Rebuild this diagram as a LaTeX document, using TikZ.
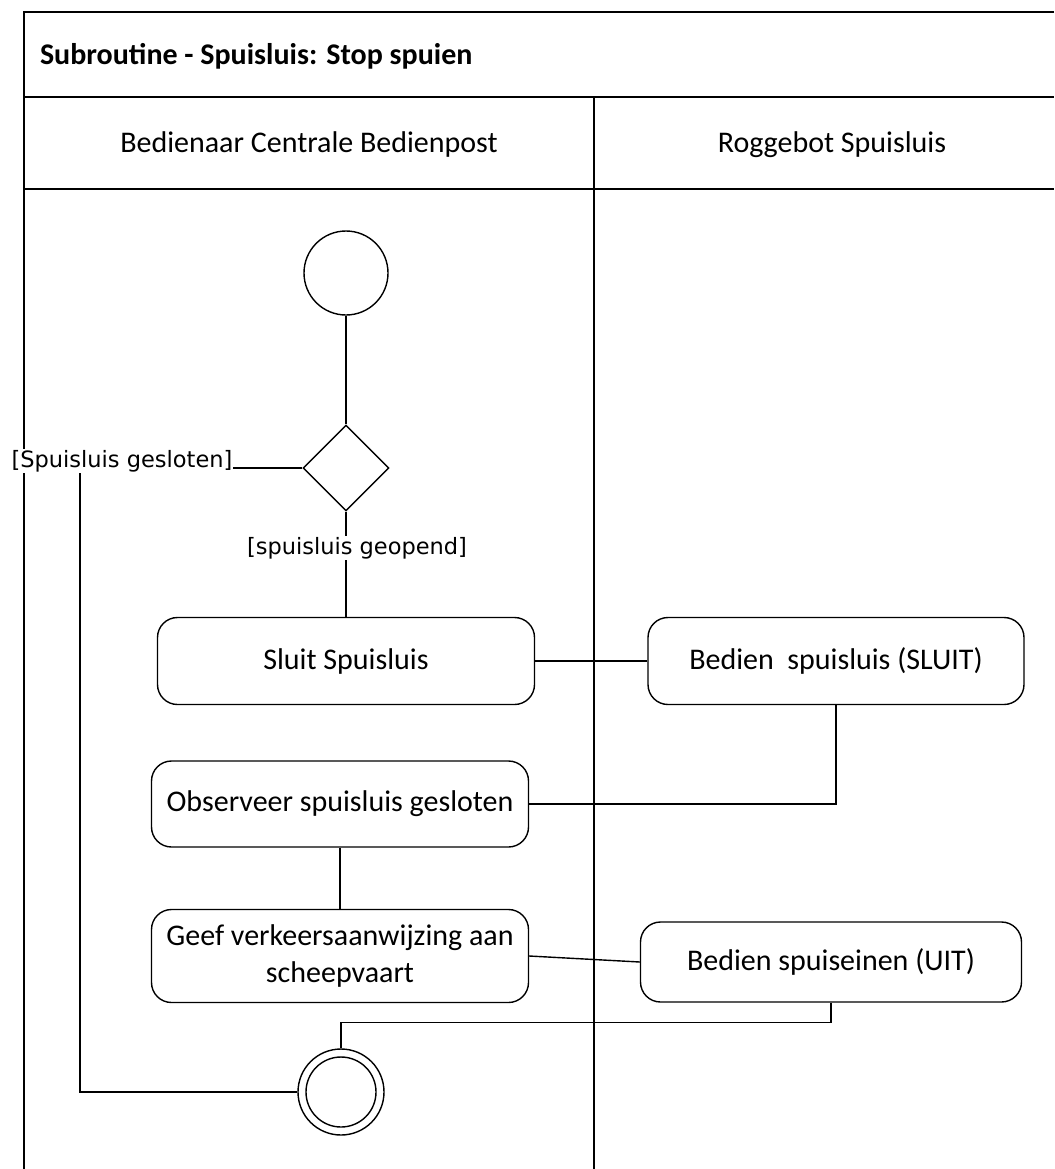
\documentclass[tikz,border=0pt]{standalone}
\usepackage{fontspec}
\setmainfont{Carlito}
\newfontfamily\guardfont{DejaVu Sans}
\usetikzlibrary{shapes.geometric}

\begin{document}
\begin{tikzpicture}[x=1pt, y=-1pt, line width=1.4pt,
  actbox/.style={draw, rounded corners=20pt, align=center, inner sep=0pt,
    font=\fontsize{30}{37}\selectfont},
  guard/.style={fill=white, inner sep=1pt, font=\guardfont\fontsize{22.5}{27}\selectfont},
  lanehead/.style={anchor=base, font=\fontsize{30}{36}\selectfont},
  frame/.style={line width=1.6pt}]
  \useasboundingbox (0,0) rectangle (1054,1169);

  % Frame and swimlanes
  \draw[frame] (1054,12) -- (24,12) -- (24,1169);
  \draw[frame] (24,97) -- (1054,97);
  \draw[frame] (24,189) -- (1054,189);
  \draw[frame] (594,97) -- (594,1169);
  \node[anchor=base west, font=\bfseries\fontsize{30}{36}\selectfont] (title) at (36,65) {Subroutine - Spuisluis: Stop spuien};
  \node[lanehead] (laneA) at (309,153) {Bedienaar Centrale Bedienpost};
  \node[lanehead] (laneB) at (832,153) {Roggebot Spuisluis};

  % Activity nodes
  \node[draw, circle, minimum size=84pt, inner sep=0pt] (start) at (346,273) {};
  \node[draw, diamond, minimum size=86pt, inner sep=0pt] (dec) at (346,468) {};
  \node[actbox, minimum width=377pt, minimum height=87pt] (sluit) at (346,661) {Sluit Spuisluis};
  \node[actbox, minimum width=376pt, minimum height=87pt] (bedS) at (836,661) {Bedien~ spuisluis (SLUIT)};
  \node[actbox, minimum width=377pt, minimum height=86pt] (obs) at (340,804) {Observeer spuisluis gesloten};
  \node[actbox, minimum width=377pt, minimum height=93pt] (geef) at (340,956) {Geef verkeersaanwijzing aan\\scheepvaart};
  \node[actbox, minimum width=381pt, minimum height=80pt] (bedU) at (831,962) {Bedien spuiseinen (UIT)};
  \node[draw, circle, minimum size=86pt, inner sep=0pt] (fin) at (341,1092) {};
  \node[draw, circle, minimum size=70pt, inner sep=0pt] (finIn) at (fin) {};

  % Flow
  \coordinate (gbend) at (80,468);
  \draw (start) -- (dec);
  \draw (dec.west) -- (gbend) |- (fin.west);
  \draw (dec) -- (sluit);
  \draw (sluit) -- (bedS);
  \draw (bedS.south) |- (obs.east);
  \draw (obs) -- (geef);
  \draw (geef.east) -- (bedU.west);
  \draw (bedU.south) -- ++(0,20) -| (fin.north);

  % Guards
  \node[guard] (gclosed) at (122,461) {[Spuisluis gesloten]};
  \node[guard] (gopen) at (357,548) {[spuisluis geopend]};
\end{tikzpicture}
\end{document}
